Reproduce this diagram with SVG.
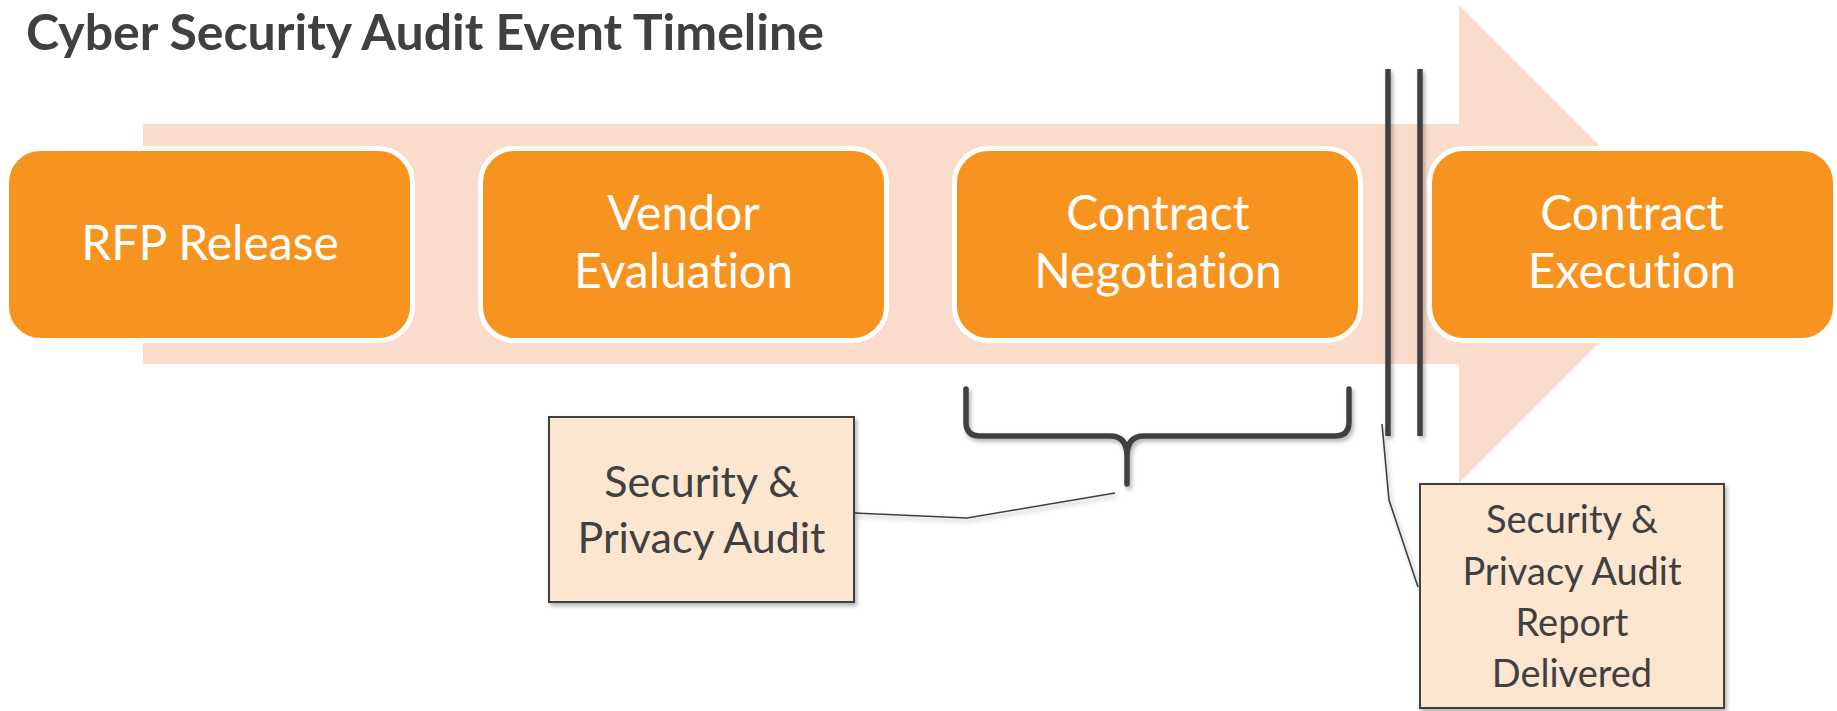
<svg xmlns="http://www.w3.org/2000/svg" width="1837" height="711" viewBox="0 0 1837 711">
  <defs>
    <filter id="shadow" filterUnits="userSpaceOnUse" x="0" y="0" width="1837" height="711">
      <feDropShadow dx="2" dy="3" stdDeviation="2" flood-color="#000" flood-opacity="0.3"/>
    </filter>
    <style>
      text { font-variant-ligatures: none; }
      .title { font-family: Lato, "Liberation Sans", sans-serif; font-weight: 700; font-size: 50px; fill: #404040; }
      .stage rect { fill: #F6941F; stroke: #FFFFFF; stroke-width: 5; }
      .stage text { font-family: Lato, "Liberation Sans", sans-serif; font-size: 48px; fill: #FFFFFF; text-anchor: middle; }
      .note rect { fill: #FCE6D0; stroke: #404040; stroke-width: 2; filter: url(#shadow); }
      .note text { font-family: Lato, "Liberation Sans", sans-serif; fill: #404040; text-anchor: middle; }
      .thin { fill: none; stroke: #404040; stroke-width: 1.6; filter: url(#shadow); }
      .thick { fill: none; stroke: #404040; stroke-width: 5.5; filter: url(#shadow); }
    </style>
  </defs>

  <rect width="1837" height="711" fill="#FFFFFF"/>

  <text class="title" x="26" y="50">Cyber Security Audit Event Timeline</text>

  <!-- background timeline arrow -->
  <path id="timeline-arrow" d="M143,124 L1459,124 L1459,5 L1698,244 L1459,483 L1459,364 L143,364 Z" fill="#FADCCD"/>

  <g id="connectors">
    <!-- brace over the negotiation phase -->
    <path class="thick" stroke-linecap="round" stroke-linejoin="round" d="M966,389 L966,422 Q966,436 980,436 L1110,436 Q1127,436 1127,456 L1127,484 M1127,456 Q1127,436 1144,436 L1335,436 Q1349,436 1349,422 L1349,389"/>
    <!-- milestone double bar -->
    <path class="thick" d="M1388,69 L1388,436 M1420,69 L1420,436"/>
    <!-- callout leaders -->
    <polyline class="thin" points="1115,493 967,518 854,513"/>
    <polyline class="thin" points="1382,424 1389,500 1418,587"/>
  </g>

  <g id="rfp-release" class="stage">
    <rect x="6.5" y="148.5" width="406" height="192" rx="34"/>
    <text x="210" y="260">RFP Release</text>
  </g>

  <g id="vendor-evaluation" class="stage">
    <rect x="480.5" y="148.5" width="406" height="192" rx="34"/>
    <text x="683.5" y="230">Vendor</text>
    <text x="683.5" y="288">Evaluation</text>
  </g>

  <g id="contract-negotiation" class="stage">
    <rect x="954.5" y="148.5" width="406" height="192" rx="34"/>
    <text x="1158" y="230">Contract</text>
    <text x="1158" y="288">Negotiation</text>
  </g>

  <g id="contract-execution" class="stage">
    <rect x="1429.5" y="148.5" width="406" height="192" rx="34"/>
    <text x="1632" y="230">Contract</text>
    <text x="1632" y="288">Execution</text>
  </g>

  <g id="audit-note" class="note">
    <rect x="549" y="417" width="305" height="185"/>
    <text x="701.5" y="497" font-size="43">Security &amp;</text>
    <text x="701.5" y="553" font-size="43">Privacy Audit</text>
  </g>

  <g id="report-note" class="note">
    <rect x="1420" y="484" width="304" height="224"/>
    <text x="1572" y="533" font-size="38">Security &amp;</text>
    <text x="1572" y="585" font-size="38">Privacy Audit</text>
    <text x="1572" y="636" font-size="38">Report</text>
    <text x="1572" y="687" font-size="38">Delivered</text>
  </g>
</svg>
